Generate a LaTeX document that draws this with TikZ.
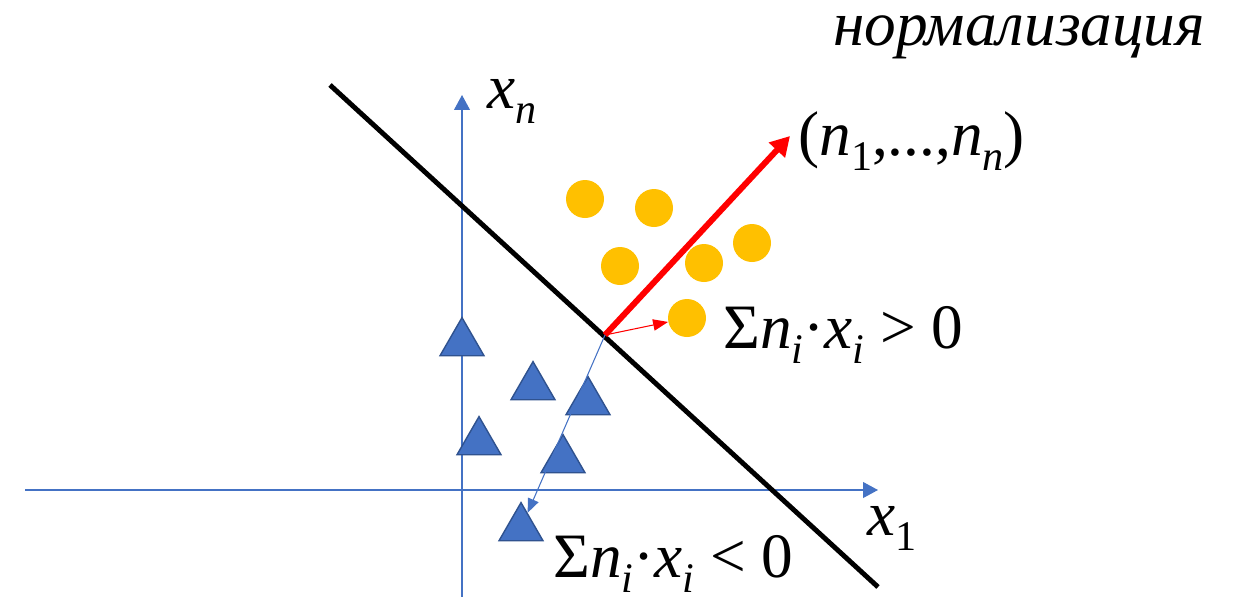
\documentclass[tikz,border=0pt]{standalone}
\usepackage{fontspec}
\setmainfont{Liberation Serif}
\usepackage{xcolor}
\definecolor{axBlue}{HTML}{4472C4}
\definecolor{triEdge}{HTML}{2F528F}
\definecolor{dotGold}{HTML}{FFC000}
\usepackage{tikz}
\usetikzlibrary{arrows.meta,shapes.geometric}

\newcommand{\idx}[1]{\raisebox{-9pt}{\fontsize{24}{24}\selectfont\itshape #1}}

\begin{document}
\begin{tikzpicture}[x=0.02cm, y=-0.02cm,
    axis/.style={axBlue, line width=0.8pt, -{Triangle[length=8.5pt,width=9pt]}},
    tri/.style={regular polygon, regular polygon sides=3, minimum size=1.016cm,
      inner sep=0pt, fill=axBlue, draw=triEdge, line width=0.8pt},
    dot/.style={circle, minimum size=0.76cm, inner sep=0pt, fill=dotGold},
    lbl/.style={inner sep=0pt, font=\fontsize{36}{40}\selectfont}]
  \useasboundingbox (0,0) rectangle (1240,596);
  % ------- axes -------
  \coordinate (xs) at (25,490);
  \coordinate (xe) at (878,490);
  \coordinate (ys) at (462,600);
  \coordinate (ye) at (462,95);
  \draw[axis] (xs) -- (xe);
  \draw[axis] (ys) -- (ye);
  \node[lbl, anchor=base west] (xn) at (487,108) {\textit{x}\idx{n}};
  \node[lbl, anchor=base west] (x1) at (867,535) {\textit{x}\idx{\upshape 1}};
  % ------- the two classes -------
  \foreach \i/\px/\py in {1/585/199,2/654/208,3/620/266,4/704/263,5/752/243,6/687/318}
    \node[dot] (c\i) at (\px,\py) {};
  \foreach \i/\px/\py in {1/462/343,2/533/387,3/588/402,4/479/442,5/563/460,6/521/528}
    \node[tri] (t\i) at (\px,\py) {};
  % ------- separating plane and normal -------
  \coordinate (pa) at (330,85);
  \coordinate (pb) at (878,587);
  \draw[line width=2.8pt] (pa) -- (pb);
  \coordinate (foot) at (605,335);
  \coordinate (tip) at (790,136);
  \draw[red, line width=3.4pt, -{Triangle[length=11pt,width=12pt]}] (foot) -- (tip);
  \draw[red, line width=0.6pt, -{Triangle[length=8.5pt,width=6.5pt]}] (foot) -- (c6);
  \draw[axBlue, line width=0.6pt, -{Triangle[length=8pt,width=6.5pt]}] (foot) -- (t6);
  % ------- labels -------
  \node[lbl, anchor=base west] (title) at (833,45) {\itshape нормализация};
  \node[lbl, anchor=base west] (nvec) at (798,155)
    {(\textit{n}\idx{\upshape 1},...,\textit{n}\idx{n})};
  \node[lbl, anchor=base west] (pos) at (723,348)
    {Σ\textit{n}\idx{i}·\textit{x}\idx{i} > 0};
  \node[lbl, anchor=base west] (neg) at (553,577)
    {Σ\textit{n}\idx{i}·\textit{x}\idx{i} < 0};
\end{tikzpicture}
\end{document}
